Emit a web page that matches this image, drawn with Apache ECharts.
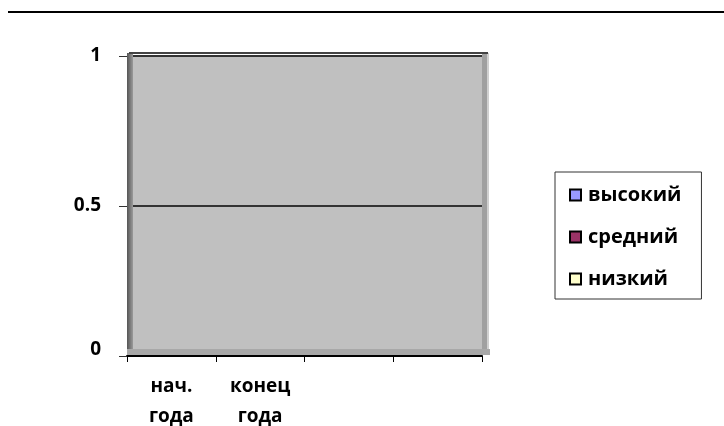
<!DOCTYPE html>
<html><head><meta charset="utf-8">
<script src="https://cdn.jsdelivr.net/npm/echarts@6/dist/echarts.min.js"></script>
<style>html,body{margin:0;padding:0;background:#fff}#c{width:724px;height:426px}</style>
</head><body><div id="c"></div>
<script>
const categories = ['нач.\nгода', 'конец\nгода', '', ''];
const seriesNames = ['высокий', 'средний', 'низкий'];
const seriesColors = ['#9999FF', '#993366', '#FFFFCC'];
const valuesHigh = [0, 0, null, null];
const valuesMid = [0, 0, null, null];
const valuesLow = [0, 0, null, null];
const yTicks = [0, 0.5, 1];

const chart = echarts.init(document.getElementById('c'), null, {renderer: 'canvas'});
const font = '"Open Sans", "Noto Sans", sans-serif';
const dataSets = [valuesHigh, valuesMid, valuesLow];
const option = {
  animation: false,
  textStyle: {fontFamily: font},
  grid: {left: 127, right: 242, top: 56, bottom: 70, show: true, backgroundColor: '#C0C0C0', borderWidth: 0,
    outerBoundsMode: 'none', containLabel: false},
  legend: {
    orient: 'vertical', left: 555, top: 172, itemGap: 22,
    itemWidth: 11, itemHeight: 11,
    padding: [13, 20, 10, 14],
    borderColor: '#333', borderWidth: 1,
    textStyle: {fontFamily: font, fontWeight: 'bold', fontSize: 20, color: '#000', padding: [0, 0, 0, 2]},
    data: seriesNames.map((n, i) => ({name: n, icon: 'rect', itemStyle: {color: seriesColors[i], borderColor: '#000', borderWidth: 2}}))
  },
  xAxis: {
    type: 'category', data: categories, boundaryGap: true,
    axisLine: {show: true, lineStyle: {color: '#000', width: 2}},
    axisTick: {show: true, length: 6, lineStyle: {color: '#000'}},
    axisLabel: {fontFamily: font, fontWeight: 'bold', fontSize: 19, color: '#000', lineHeight: 30, margin: 16, interval: 0}
  },
  yAxis: {
    type: 'value', min: 0, max: 1, interval: 0.5,
    axisLine: {show: false},
    axisTick: {show: true, length: 8, lineStyle: {color: '#333'}},
    splitLine: {show: true, lineStyle: {color: '#333', width: 2}},
    axisLabel: {fontFamily: font, fontWeight: 'bold', fontSize: 19, color: '#000', margin: 26,
      formatter: v => yTicks.includes(v) ? (v === 0 ? '{z|0}' : String(v)) : '',
      rich: {z: {fontFamily: font, fontWeight: 'bold', fontSize: 19, color: '#000', padding: [0, 0, 12, 0]}}}
  },
  series: seriesNames.map((n, i) => ({
    name: n, type: 'bar', data: dataSets[i],
    itemStyle: {color: seriesColors[i], borderColor: '#000', borderWidth: 1}
  }))
};
chart.setOption(option);
const gr = chart.getModel().getComponent('grid').coordinateSystem.getRect();
chart.setOption({
  graphic: [
    {type: 'line', shape: {x1: 8, y1: 12, x2: 724, y2: 12}, style: {stroke: '#000', lineWidth: 2}},
    {type: 'rect', shape: {x: gr.x, y: gr.y - 3, width: 6, height: gr.height + 2}, style: {fill: new echarts.graphic.LinearGradient(0,0,1,0,[{offset:0,color:'#555'},{offset:1,color:'#9a9a9a'}])}, z: 5},
    {type: 'rect', shape: {x: gr.x, y: gr.y + gr.height - 7, width: gr.width + 8, height: 6}, style: {fill: '#a8a8a8'}, z: 5},
    {type: 'rect', shape: {x: gr.x + gr.width, y: gr.y - 3, width: 7, height: gr.height - 4}, style: {fill: '#a0a0a0'}, z: 4},
    {type: 'rect', shape: {x: gr.x + gr.width + 5, y: gr.y - 3, width: 2, height: gr.height - 4}, style: {fill: '#d0d0d0'}, z: 5},
    {type: 'line', shape: {x1: gr.x + 2, y1: gr.y - 3, x2: gr.x + gr.width + 6, y2: gr.y - 3}, style: {stroke: '#444', lineWidth: 2}, z: 6}
  ]
});
</script></body></html>
